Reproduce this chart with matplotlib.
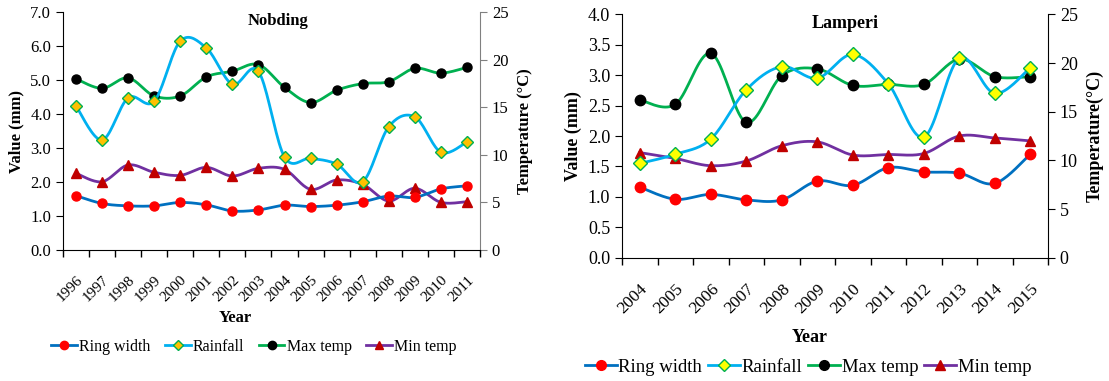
import matplotlib
matplotlib.use("Agg")
import matplotlib.pyplot as plt
from matplotlib.lines import Line2D
import numpy as np

plt.rcParams['font.family'] = ['Liberation Serif', 'DejaVu Serif']

# Nobding
nob_years = [str(y) for y in range(1996, 2012)]
nob_ring = [1.60, 1.37, 1.30, 1.30, 1.40, 1.33, 1.15, 1.18, 1.32, 1.28, 1.32, 1.42, 1.59, 1.55, 1.80, 1.89]
nob_rain = [4.24, 3.24, 4.48, 4.38, 6.15, 5.95, 4.88, 5.26, 2.74, 2.70, 2.53, 2.01, 3.63, 3.92, 2.88, 3.18]
nob_tmax = [18.0, 17.0, 18.1, 16.2, 16.2, 18.2, 18.8, 19.5, 17.1, 15.5, 16.8, 17.5, 17.7, 19.1, 18.6, 19.2]
nob_tmin = [8.07, 7.18, 8.94, 8.17, 7.85, 8.69, 7.78, 8.59, 8.48, 6.38, 7.36, 6.90, 5.15, 6.49, 5.01, 5.08]

# Lamperi
lam_years = [str(y) for y in range(2004, 2016)]
lam_ring = [1.16, 0.96, 1.04, 0.95, 0.95, 1.26, 1.19, 1.48, 1.41, 1.39, 1.22, 1.70]
lam_rain = [1.55, 1.70, 1.95, 2.76, 3.14, 2.95, 3.34, 2.86, 1.98, 3.28, 2.70, 3.12]
lam_tmax = [16.2, 15.75, 21.0, 13.9, 18.7, 19.4, 17.7, 17.8, 17.8, 20.4, 18.6, 18.6]
lam_tmin = [10.8, 10.2, 9.45, 9.93, 11.5, 11.9, 10.55, 10.6, 10.7, 12.5, 12.3, 12.0]

C_RING = '#0070C0'
C_RAIN = '#00B0F0'
C_TMAX = '#00B050'
C_TMIN = '#7030A0'


def smooth(y, n=20):
    # excel style smoothed line (bezier through the points)
    y = np.asarray(y, dtype=float)
    x = np.arange(len(y), dtype=float)
    xs, ys = [], []
    for i in range(len(y) - 1):
        p0 = np.array([x[max(i - 1, 0)], y[max(i - 1, 0)]])
        p1 = np.array([x[i], y[i]])
        p2 = np.array([x[i + 1], y[i + 1]])
        p3 = np.array([x[min(i + 2, len(y) - 1)], y[min(i + 2, len(y) - 1)]])
        c1 = p1 + (p2 - p0) / 6.0
        c2 = p2 - (p3 - p1) / 6.0
        t = np.linspace(0, 1, n)[:, None]
        pts = (1 - t) ** 3 * p1 + 3 * (1 - t) ** 2 * t * c1 + 3 * (1 - t) * t ** 2 * c2 + t ** 3 * p2
        xs.extend(pts[:, 0])
        ys.extend(pts[:, 1])
    return np.array(xs), np.array(ys)


def draw(ax, years, ring, rain, tmax, tmin, ymax, ystep, rain_face, ms, right_col,
         xtick_size, ytick_size):
    ax2 = ax.twinx()
    n = len(years)
    x = np.arange(n)
    for vals, a, col in [(ring, ax, C_RING), (rain, ax, C_RAIN), (tmax, ax2, C_TMAX), (tmin, ax2, C_TMIN)]:
        sx, sy = smooth(vals)
        a.plot(sx, sy, color=col, lw=2, zorder=2)
    ax.plot(x, rain, ls='none', marker='D', ms=ms * 0.95, mfc=rain_face, mec='#00B050', mew=1, zorder=4)
    ax.plot(x, ring, ls='none', marker='o', ms=ms, mfc='#FF0000', mec='#FF0000', zorder=4)
    ax2.plot(x, tmax, ls='none', marker='o', ms=ms, mfc='black', mec='black', zorder=4)
    ax2.plot(x, tmin, ls='none', marker='^', ms=ms, mfc='#C00000', mec='#C00000', zorder=4)

    ax.set_xlim(-0.5, n - 0.5)
    ax.set_ylim(0, ymax)
    ax2.set_ylim(0, 25)
    ax.set_yticks(np.arange(0, ymax + 0.001, ystep))
    ax.set_yticklabels(['%.1f' % v for v in np.arange(0, ymax + 0.001, ystep)])
    ax2.set_yticks(range(0, 26, 5))
    ax.set_xticks(x)
    ax.set_xticks(np.arange(-0.5, n, 1.0), minor=True)
    ax.set_xticklabels(years, rotation=45, ha='right', rotation_mode='anchor', fontsize=xtick_size)
    ax.tick_params(axis='x', which='major', length=0, pad=17)
    ax.tick_params(axis='x', which='minor', length=5, width=1)
    ax.tick_params(axis='y', length=5, labelsize=ytick_size)
    ax2.tick_params(axis='y', length=5, labelsize=ytick_size, colors=right_col, labelcolor='black')
    for a in (ax, ax2):
        a.spines['top'].set_visible(False)
    ax.spines['right'].set_visible(False)
    ax2.spines['left'].set_visible(False)
    ax2.spines['bottom'].set_visible(False)
    ax2.spines['right'].set_color(right_col)
    ax.set_zorder(ax2.get_zorder() + 1)
    ax.patch.set_visible(False)
    return ax2


fig = plt.figure(figsize=(11.09, 3.81), dpi=100)

# left panel
axL = fig.add_axes([0.0568, 0.3438, 0.376, 0.624])
axL2 = draw(axL, nob_years, nob_ring, nob_rain, nob_tmax, nob_tmin, 7.0, 1.0, '#FFC000', 6.5,
            '#808080', 11, 12)
axL.text(0.516, 0.965, 'Nobding', transform=axL.transAxes, ha='center', va='center',
         fontsize=12, fontweight='bold')
axL.set_ylabel('Value (mm)', fontsize=12, fontweight='bold', labelpad=4)
axL2.set_ylabel('Temperature (°C)', fontsize=12, fontweight='bold', labelpad=6)
fig.text(235 / 1109, 1 - 318 / 381, 'Year', ha='center', va='center', fontsize=12, fontweight='bold')

# right panel
axR = fig.add_axes([0.5609, 0.3236, 0.3841, 0.6388])
axR2 = draw(axR, lam_years, lam_ring, lam_rain, lam_tmax, lam_tmin, 4.0, 0.5, '#FFFF00', 7.5,
            'black', 12.5, 13)
axR.text(0.523, 0.963, 'Lamperi', transform=axR.transAxes, ha='center', va='center',
         fontsize=13, fontweight='bold')
axR.set_ylabel('Value (mm)', fontsize=13, fontweight='bold', labelpad=4)
axR2.set_ylabel('Temperature(°C)', fontsize=13, fontweight='bold', labelpad=6)
fig.text(810 / 1109, 1 - 338 / 381, 'Year', ha='center', va='center', fontsize=13, fontweight='bold')


def handles(rain_face, ms):
    return [
        Line2D([], [], color=C_RING, lw=2, marker='o', ms=ms, mfc='#FF0000', mec='#FF0000'),
        Line2D([], [], color=C_RAIN, lw=2, marker='D', ms=ms * 0.9, mfc=rain_face, mec='#00B050'),
        Line2D([], [], color=C_TMAX, lw=2, marker='o', ms=ms, mfc='black', mec='black'),
        Line2D([], [], color=C_TMIN, lw=2, marker='^', ms=ms, mfc='#C00000', mec='#C00000'),
    ]


labels = ['Ring width', 'Rainfall', 'Max temp', 'Min temp']
fig.legend(handles('#FFC000', 6), labels, loc='center', bbox_to_anchor=(254 / 1109, 1 - 347 / 381),
           ncol=4, frameon=False, fontsize=11.5, handlelength=1.6, handletextpad=0.15, columnspacing=0.9)
fig.legend(handles('#FFFF00', 7), labels, loc='center', bbox_to_anchor=(808 / 1109, 1 - 367 / 381),
           ncol=4, frameon=False, fontsize=13.5, handlelength=1.7, handletextpad=0.1, columnspacing=0.3)

fig.savefig('out.png', dpi=100)
